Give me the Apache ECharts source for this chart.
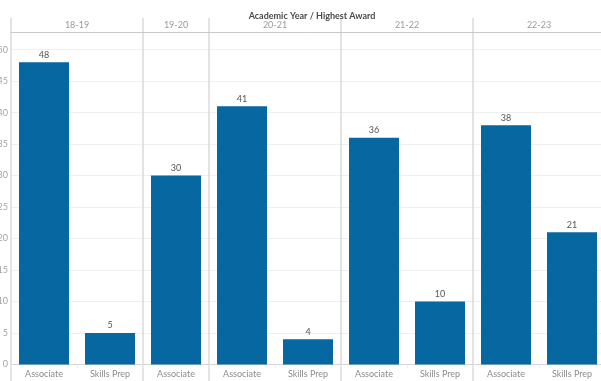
<!DOCTYPE html>
<html>
<head>
<meta charset="utf-8">
<script src="https://cdn.jsdelivr.net/npm/echarts@6/dist/echarts.min.js"></script>
<style>
  html, body { margin: 0; padding: 0; background: #fff; }
  #chart { width: 601px; height: 381px; }
</style>
</head>
<body>
<div id="chart"></div>
<script>
// ---- data ----
const years   = ['18-19', '19-20', '20-21', '21-22', '22-23'];
const barYear = ['18-19', '18-19', '19-20', '20-21', '20-21', '21-22', '21-22', '22-23', '22-23'];
const awards  = ['Associate', 'Skills Prep', 'Associate', 'Associate', 'Skills Prep', 'Associate', 'Skills Prep', 'Associate', 'Skills Prep'];
const counts  = [48, 5, 30, 41, 4, 36, 10, 38, 21];
const yMin = 0, yMax = 52.8, yStep = 5;
const titleText = 'Academic Year / Highest Award';

// ---- build header (half-slot positions) from the data ----
const halfCount = awards.length * 2 + 1;
const halfIdx = Array.from({ length: halfCount }, (_, i) => String(i));
const halfLabel = new Array(halfCount).fill('');
const splitAt = new Set();
years.forEach(y => {
  const start = barYear.indexOf(y);
  const n = barYear.filter(v => v === y).length;
  splitAt.add(2 * start);
  halfLabel[2 * start + n] = y;
});

const FONT = 'Lato, "Open Sans", sans-serif';
const chart = echarts.init(document.getElementById('chart'), null, { renderer: 'canvas' });
chart.setOption({
  animation: false,
  backgroundColor: '#ffffff',
  title: {
    text: titleText,
    left: 307,
    textAlign: 'center',
    top: 7,
    textStyle: { fontFamily: FONT, fontSize: 9, fontWeight: 'bold', color: '#4a4a4a' }
  },
  grid: [
    { left: 11, top: 32, width: 594, height: 332.5, containLabel: false, outerBoundsMode: 'none' },
    { left: 11, top: 18, width: 594, height: 363, containLabel: false, outerBoundsMode: 'none' }
  ],
  xAxis: [
    {
      type: 'category', gridIndex: 0, data: awards, position: 'bottom',
      axisLine: { show: true, lineStyle: { color: '#d4d4d4', width: 1 } },
      axisTick: { show: true, length: 4, lineStyle: { color: '#ececec' } },
      axisLabel: { fontFamily: FONT, fontSize: 9, color: '#8c8c8c', margin: 5, interval: 0 },
      splitLine: { show: false }
    },
    {
      type: 'category', gridIndex: 0, data: awards, position: 'top',
      axisLine: { show: true, lineStyle: { color: '#c8c8c8', width: 1 } },
      axisTick: { show: false }, axisLabel: { show: false }, splitLine: { show: false }
    },
    {
      type: 'category', gridIndex: 1, data: halfIdx, position: 'top', boundaryGap: false,
      axisLine: { show: false }, axisTick: { show: false },
      axisLabel: {
        inside: true, margin: 3, fontFamily: FONT, fontSize: 9, color: '#9a9a9a',
        interval: (i) => halfLabel[i] !== '',
        formatter: (v, i) => halfLabel[i]
      },
      splitLine: {
        show: true,
        interval: (i) => splitAt.has(i),
        lineStyle: { color: '#dcdcdc', width: 1.6 }
      }
    }
  ],
  yAxis: [
    {
      type: 'value', gridIndex: 0, min: yMin, max: yMax, interval: yStep,
      axisLine: { show: false }, axisTick: { show: false },
      axisLabel: { fontFamily: FONT, fontSize: 9, color: '#a3a3a3', margin: 3, showMaxLabel: false },
      splitLine: { show: true, lineStyle: { color: '#efefef', width: 1 } }
    },
    { type: 'value', gridIndex: 1, show: false, min: 0, max: 1 }
  ],
  series: [
    {
      type: 'bar', xAxisIndex: 0, yAxisIndex: 0,
      data: counts, barWidth: 50,
      itemStyle: { color: '#0767a1' },
      label: {
        show: true, position: 'top', distance: 3,
        fontFamily: FONT, fontSize: 9, color: '#555555'
      }
    }
  ]
});
</script>
</body>
</html>
